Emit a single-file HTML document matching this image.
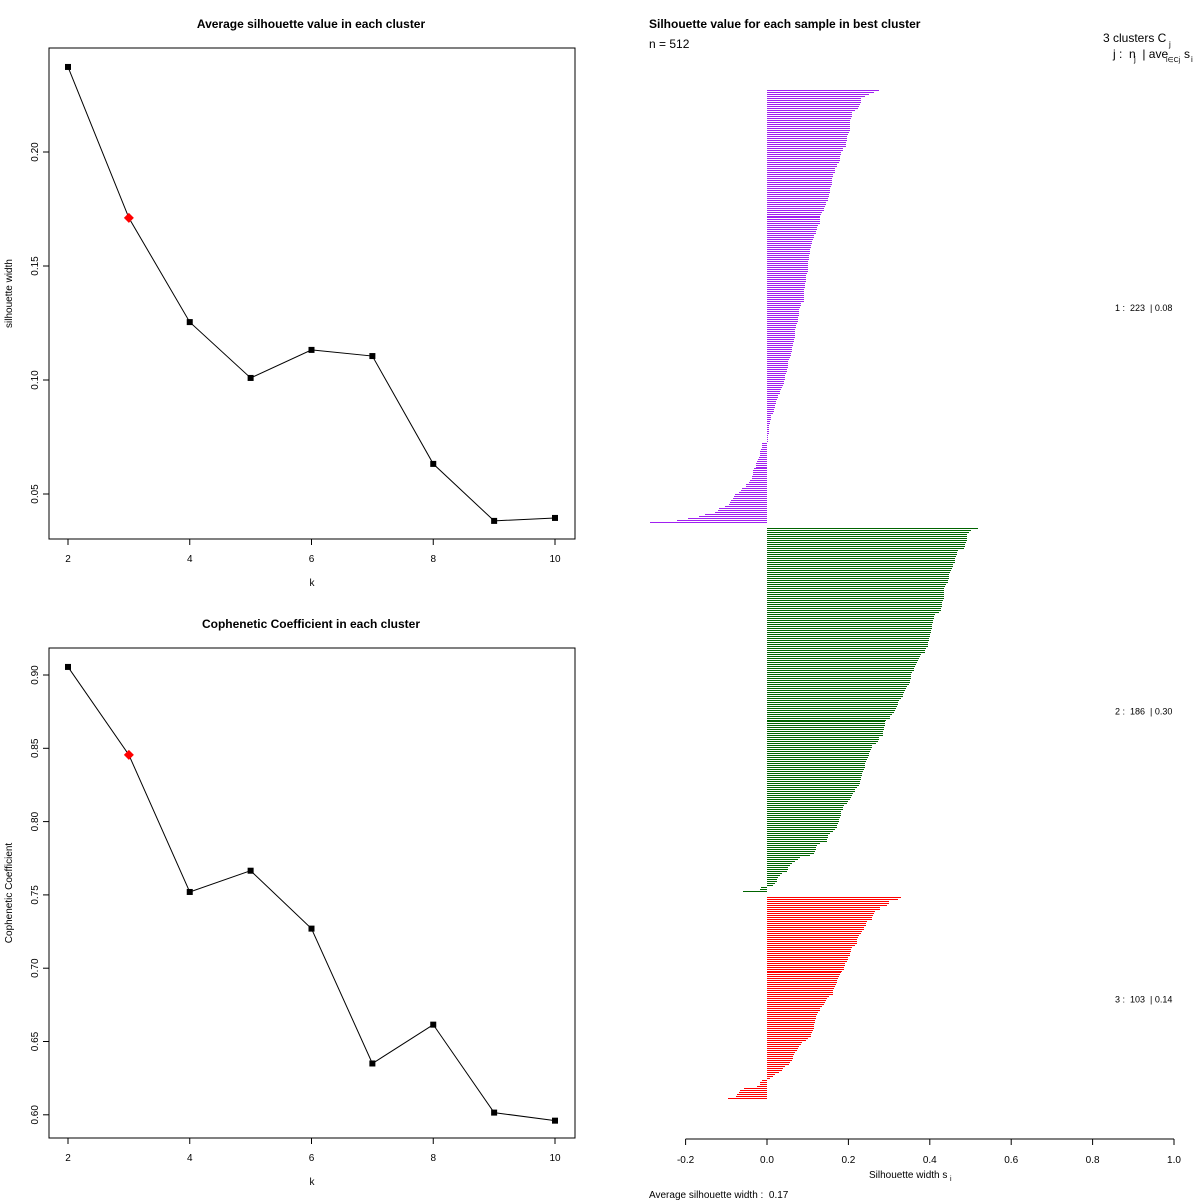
<!DOCTYPE html>
<html><head><meta charset="utf-8"><style>
html,body{margin:0;padding:0;background:#fff;}
svg{display:block;font-family:"Liberation Sans",sans-serif;}
text{white-space:pre;}
</style></head><body>
<svg id="svg" width="1200" height="1200" viewBox="0 0 1200 1200">
<rect width="1200" height="1200" fill="#fff"/>
<g id="p1"></g>
<g id="p2"></g>
<g id="p3"></g>
</svg>
<script>
// ---- chart data ----
const kValues = [2,3,4,5,6,7,8,9,10];
const avgSil = [0.2373,0.1711,0.1254,0.1009,0.1132,0.1105,0.0632,0.0382,0.0395];
const coph = [0.9055,0.8455,0.752,0.7665,0.727,0.635,0.6615,0.6015,0.596];
const bestK = 3;
const xTicks = [2,4,6,8,10];
const silTicks = [0.05,0.10,0.15,0.20];
const silTickLabels = ["0.05","0.10","0.15","0.20"];
const cophTicks = [0.60,0.65,0.70,0.75,0.80,0.85,0.90];
const cophTickLabels = ["0.60","0.65","0.70","0.75","0.80","0.85","0.90"];
const sTicks = [-0.2,0,0.2,0.4,0.6,0.8,1.0];
const sTickLabels = ["-0.2","0.0","0.2","0.4","0.6","0.8","1.0"];
const clusterColors = ["#a020f0","#006400","#ff0000"];
const clusterSizes = [223,186,103];
const clusterAvg = ["0.08","0.30","0.14"];
const sil1 = [.275,.263,.251,.241,.231,.231,.231,.228,.226,.224,.216,.210,.208,.208,.206,.205,.204,.204,.204,.204,.203,.201,.199,.197,.197,.197,.195,.194,.193,.187,.186,.183,.182,.180,.179,.179,.177,.172,.171,.167,.167,.167,.162,.161,.160,.160,.160,.159,.157,.156,.156,.154,.152,.152,.150,.149,.146,.144,.142,.141,.139,.135,.133,.130,.130,.130,.130,.129,.125,.124,.123,.120,.120,.116,.115,.113,.111,.111,.109,.108,.106,.106,.105,.104,.103,.102,.101,.101,.101,.101,.101,.100,.098,.097,.096,.096,.095,.094,.093,.093,.092,.091,.091,.091,.091,.091,.090,.084,.084,.081,.079,.079,.079,.078,.076,
.076,.075,.073,.072,.071,.070,.070,.070,.070,.070,.067,.066,.064,.064,.062,.061,.061,.059,.058,.057,.054,.052,.052,.052,.051,.049,.048,.046,.044,.044,.043,.042,.042,.039,.036,.034,.032,.031,.028,.026,.025,.022,.021,.020,.020,.018,.016,.015,.011,.011,.009,.007,.007,.006,.004,.004,.004,.004,.001,.001,.001,.001,
-.013,-.013,-.013,-.015,-.016,-.018,-.018,-.020,-.022,-.024,-.026,-.028,-.028,-.033,-.034,-.035,-.035,-.037,-.038,-.042,-.043,-.052,-.052,-.062,-.064,-.070,-.079,-.082,-.083,-.088,-.090,-.093,-.102,-.119,-.120,-.128,-.152,-.167,-.194,-.221,-.288];
const sil2 = [.518,.501,.496,.491,.491,.491,.491,.488,.486,.486,.484,.469,.467,.466,.464,.463,.461,.461,.458,.456,.455,.452,.450,.447,.447,.446,.445,.444,.440,.437,.436,.435,.435,.435,.435,.434,.432,.431,.430,.429,.428,.428,.423,.412,.410,.410,.409,.408,.405,.405,.405,.403,.402,.400,.400,.399,.398,.396,.396,.395,.390,.388,.388,.378,.377,.373,.371,.369,.365,.363,.361,.360,.357,.354,.353,.353,.351,.351,.349,.344,.342,.339,.336,.334,.333,.329,.324,.322,.321,.320,.318,.314,
.311,.307,.301,.301,.292,.290,.289,.289,.288,.287,.285,.285,.284,.275,.274,.272,.267,.258,.257,.256,.254,.251,.251,.248,.246,.243,.241,.240,.240,.238,.236,.233,.233,.231,.231,.229,.229,.226,.221,.216,.215,.211,.208,.206,.203,.199,.197,.189,.187,.187,.182,.182,.181,.180,.177,.176,.175,.173,.171,.167,.162,.156,.150,.149,.147,.147,.130,.124,.121,.120,.118,.115,.106,.081,.076,.069,.061,.056,.052,.051,.049,.037,.031,.026,.025,.025,.020,.015,-.015,-.017,-.059];
const sil3 = [.329,.322,.300,.300,.294,.278,.278,.265,.263,.260,.259,.258,.246,.243,.243,.238,.238,.233,.230,.227,.224,.221,.220,.220,.215,.209,.206,.206,.205,.204,.199,.198,.197,.192,.191,.190,.189,.184,.181,.179,.176,.174,.173,.171,.169,.166,.165,.162,.161,.161,.152,.147,.145,.142,.139,.134,.130,.129,.125,.122,.120,.120,.119,.118,.116,.115,.115,.114,.111,.109,.107,.101,.097,.085,.083,.078,.075,.073,.069,.066,.065,.063,.061,.057,.053,.044,.040,.037,.029,.020,.015,.007,-.012,-.016,-.017,-.025,-.057,-.066,-.070,-.074,-.076,-.096];
const silClusters = [sil1,sil2,sil3];

const NS="http://www.w3.org/2000/svg";
function mk(parent,tag,attrs,text){const e=document.createElementNS(NS,tag);for(const k in attrs)e.setAttribute(k,attrs[k]);if(text!==undefined)e.textContent=text;parent.appendChild(e);return e;}

function linePanel(g, vals, top, bottom, yFn, yTicks, yLabels, title, ylab){
  const L=49,R=575;
  const xs=k=>68+(k-2)*60.875;
  let e;
  e=mk(g,'rect',{x:L,y:top,width:R-L,height:bottom-top,fill:'none',stroke:'#000','stroke-width':1});
  
  e=mk(g,'text',{x:311,y:top-20,'text-anchor':'middle','font-size':12,'font-weight':'bold'},title);
  
  e=mk(g,'text',{transform:`translate(12,${(top+bottom)/2}) rotate(-90)`,'text-anchor':'middle','font-size':10},ylab);
  
  e=mk(g,'text',{x:312,y:bottom+47,'text-anchor':'middle','font-size':10},'k');
  
  xTicks.forEach(k=>{
    e=mk(g,'line',{x1:xs(k),x2:xs(k),y1:bottom,y2:bottom+6,stroke:'#000'});
    
    e=mk(g,'text',{x:xs(k),y:bottom+23,'text-anchor':'middle','font-size':10},String(k));
    
  });
  yTicks.forEach((v,i)=>{
    const y=yFn(v);
    e=mk(g,'line',{x1:L-6,x2:L,y1:y,y2:y,stroke:'#000'});
    
    e=mk(g,'text',{transform:`translate(38,${y}) rotate(-90)`,'text-anchor':'middle','font-size':10},yLabels[i]);
    
  });
  const pts=vals.map((v,i)=>xs(kValues[i])+','+yFn(v)).join(' ');
  e=mk(g,'polyline',{points:pts,fill:'none',stroke:'#000','stroke-width':1});
  
  vals.forEach((v,i)=>{
    const x=xs(kValues[i]),y=yFn(v);
    if(kValues[i]===bestK){
      e=mk(g,'polygon',{points:`${x},${y-5} ${x+5},${y} ${x},${y+5} ${x-5},${y}`,fill:'#f00'});
      
    } else {
      e=mk(g,'rect',{x:x-3,y:y-3,width:6,height:6,fill:'#000'});
      
    }
    
  });
}
linePanel(document.getElementById('p1'),avgSil,48,539,v=>152+(0.20-v)*2280,silTicks,silTickLabels,'Average silhouette value in each cluster','silhouette width');
linePanel(document.getElementById('p2'),coph,648,1138,v=>675+(0.90-v)*1466,cophTicks,cophTickLabels,'Cophenetic Coefficient in each cluster','Cophenetic Coefficient');

// silhouette panel
(function(){
  const g=document.getElementById('p3');
  const sx=v=>767+v*407;
  const total=sil1.length+sil2.length+sil3.length+4;
  const pitch=(1098-90)/(total-1);
  let e, slot=0;
  silClusters.forEach((arr,c)=>{
    arr.forEach(v=>{
      const y=Math.round(90+slot*pitch);
      const x0=Math.round(Math.min(sx(0),sx(v))),w=Math.round(Math.abs(sx(v)-sx(0)));
      e=mk(g,'rect',{x:x0,y:y,width:Math.max(w,1),height:1,fill:clusterColors[c],'shape-rendering':'crispEdges'});
      
      
      slot++;
    });
    const mid=90+(slot-arr.length/2)*pitch;
    e=mk(g,'text',{x:1115,y:mid+4,'font-size':9},`${c+1} :  ${clusterSizes[c]}  | ${clusterAvg[c]}`);
    
    slot+=2;
  });
  e=mk(g,'line',{x1:sx(-0.2),x2:sx(1.0),y1:1139,y2:1139,stroke:'#000'});
  
  sTicks.forEach((v,i)=>{
    e=mk(g,'line',{x1:sx(v),x2:sx(v),y1:1139,y2:1145,stroke:'#000'});
    
    e=mk(g,'text',{x:sx(v),y:1163,'text-anchor':'middle','font-size':10},sTickLabels[i]);
    
  });
  e=mk(g,'text',{x:869,y:1178,'font-size':10},'Silhouette width s');
  
  mk(g,'text',{x:950,y:1181,'font-size':7},'i');
  e=mk(g,'text',{x:649,y:1198,'font-size':10},'Average silhouette width :  0.17');
  
  e=mk(g,'text',{x:649,y:28,'font-size':12,'font-weight':'bold'},'Silhouette value for each sample in best cluster');
  
  e=mk(g,'text',{x:649,y:48,'font-size':12},'n = 512');
  
  e=mk(g,'text',{x:1103,y:42,'font-size':12},'3 clusters C');
  
  mk(g,'text',{x:1169,y:47,'font-size':8},'j');
  e=mk(g,'text',{x:1113,y:58,'font-size':12},'j :  n  | ave');
  
  mk(g,'text',{x:1134,y:62,'font-size':8},'j');
  mk(g,'text',{x:1166,y:62,'font-size':7},'i∈Cj');
  mk(g,'text',{x:1184,y:58,'font-size':12},'s');
  mk(g,'text',{x:1191,y:62,'font-size':8},'i');
})();
</script>
</body></html>
